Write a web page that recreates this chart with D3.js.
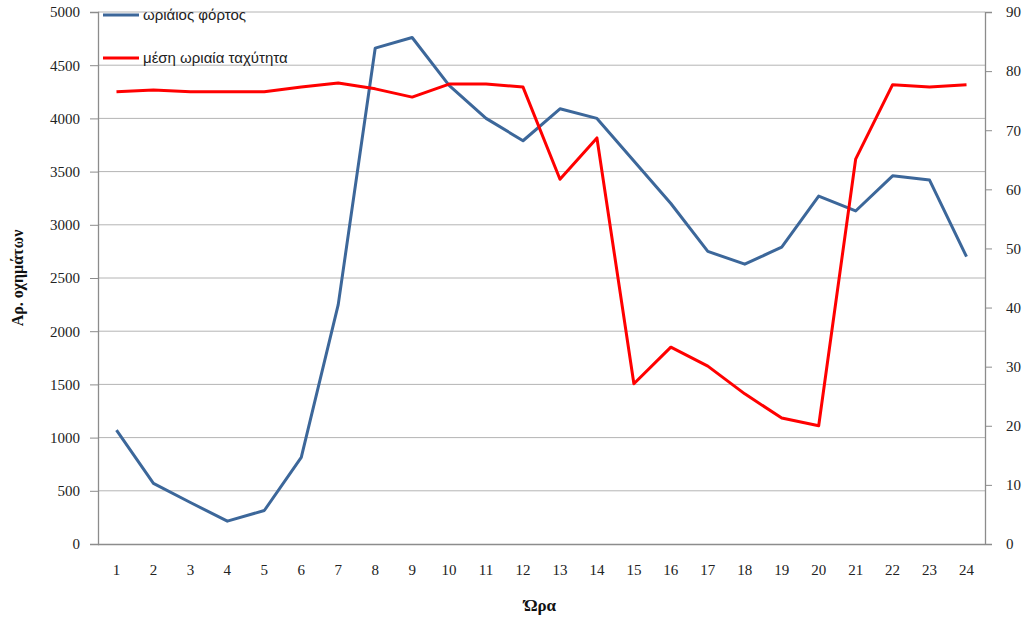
<!DOCTYPE html>
<html><head><meta charset="utf-8">
<script src="https://cdn.jsdelivr.net/npm/d3@7"></script>
<style>body{margin:0;background:#fff}svg{display:block}</style>
</head><body><svg id="c" width="1029" height="618"></svg>
<script>
const hours = ["1","2","3","4","5","6","7","8","9","10","11","12","13","14","15","16","17","18","19","20","21","22","23","24"];
const load = [1070,570,390,215,315,815,2250,4660,4760,4310,4000,3790,4090,4000,3600,3200,2750,2630,2790,3270,3130,3460,3420,2700];
const speed = [76.5,76.8,76.5,76.5,76.5,77.3,78.0,77.0,75.6,77.8,77.8,77.3,61.7,68.7,27.1,33.3,30.1,25.4,21.3,20.0,65.1,77.7,77.3,77.7];
const leftTicks = [0,500,1000,1500,2000,2500,3000,3500,4000,4500,5000];
const rightTicks = [0,10,20,30,40,50,60,70,80,90];
const seriesNames = ["ωριάιος φόρτος","μέση ωριαία ταχύτητα"];
const xTitle = "Ώρα", yTitle = "Αρ. οχημάτων";

const svg = d3.select("#c");
const L = 98, R = 985, T = 12, B = 544;
const x = d3.scaleBand().domain(hours).range([L, R]);
const yL = d3.scaleLinear().domain([0,5000]).range([B, T]);
const yR = d3.scaleLinear().domain([0,90]).range([B, T]);
const serif = "'Liberation Serif','DejaVu Serif',serif";
const axisCol = "#8c8c8c";

// grid
svg.append("g").selectAll("line").data(leftTicks.filter(d=>d>0)).join("line")
  .attr("x1", L).attr("x2", R).attr("y1", d=>yL(d)).attr("y2", d=>yL(d))
  .attr("stroke", "#b4b4b4").attr("stroke-width", 1);

const gl = svg.append("g").attr("transform", `translate(${L},0)`)
  .call(d3.axisLeft(yL).tickValues(leftTicks).tickSize(8).tickPadding(10).tickFormat(d3.format("d")));
const gr = svg.append("g").attr("transform", `translate(${R},0)`)
  .call(d3.axisRight(yR).tickValues(rightTicks).tickSize(7).tickPadding(14).tickFormat(d3.format("d")));
const gb = svg.append("g").attr("transform", `translate(0,${B})`)
  .call(d3.axisBottom(x).tickSize(0).tickPadding(20));
[gl,gr,gb].forEach(g=>{
  g.selectAll("path").attr("stroke", axisCol).attr("stroke-width",1.3);
  g.selectAll("line").attr("stroke", axisCol);
  g.selectAll("text").attr("font-family", serif).attr("font-size", 15).attr("fill","#222");
});
gb.select("path").attr("d", `M${L},0.5H${R}`);

const line = (ys, vals) => d3.line().x((d,i)=>x(hours[i]) + x.bandwidth()/2).y(d=>ys(d))(vals);
svg.append("path").attr("d", line(yL, load)).attr("fill","none").attr("stroke","#3c679a").attr("stroke-width",3).attr("stroke-linejoin","round");
svg.append("path").attr("d", line(yR, speed)).attr("fill","none").attr("stroke","#ff0000").attr("stroke-width",3).attr("stroke-linejoin","round");

// legend
const leg = [{n:seriesNames[0], c:"#3c679a", y:15},{n:seriesNames[1], c:"#ff0000", y:58}];
leg.forEach(d=>{
  svg.append("line").attr("x1",103).attr("x2",139).attr("y1",d.y).attr("y2",d.y).attr("stroke",d.c).attr("stroke-width",3);
  svg.append("text").attr("x",143).attr("y",d.y+5).text(d.n)
    .attr("font-family","'Liberation Sans','DejaVu Sans',sans-serif").attr("font-size",15).attr("fill","#222");
});

svg.append("text").attr("x",540).attr("y",611).attr("text-anchor","middle").text(xTitle)
  .attr("font-family",serif).attr("font-weight","bold").attr("font-size",17).attr("fill","#111");
svg.append("text").attr("transform","translate(23,278) rotate(-90)").attr("text-anchor","middle").text(yTitle)
  .attr("font-family",serif).attr("font-weight","bold").attr("font-size",16).attr("fill","#111");
</script></body></html>
